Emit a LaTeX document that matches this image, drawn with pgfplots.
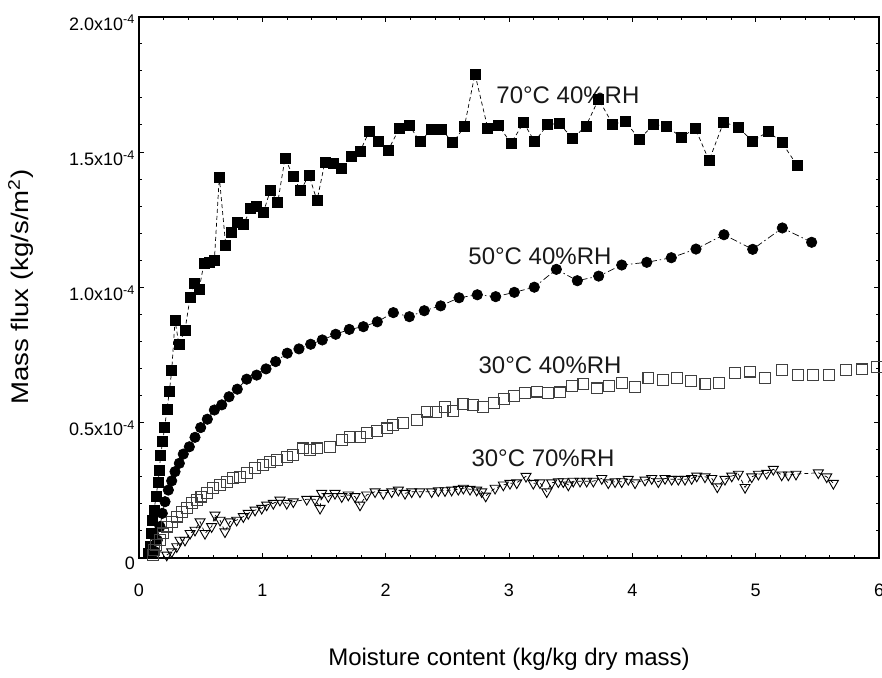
\documentclass[border=0pt]{standalone}
\usepackage{pgfplots}
\pgfplotsset{compat=1.18}
\usepackage{fontspec}
\setmainfont{Liberation Sans}

\pgfplotstableread{
x y
0.075 0.017
0.089 0.041
0.100 0.090
0.111 0.139
0.122 0.176
0.138 0.226
0.154 0.277
0.165 0.324
0.176 0.380
0.192 0.429
0.208 0.482
0.227 0.549
0.246 0.614
0.265 0.691
0.292 0.876
0.324 0.789
0.373 0.842
0.414 0.961
0.448 1.014
0.487 0.993
0.527 1.088
0.568 1.091
0.611 1.099
0.651 1.407
0.703 1.156
0.746 1.203
0.797 1.238
0.849 1.233
0.906 1.292
0.954 1.298
1.008 1.275
1.065 1.359
1.125 1.314
1.184 1.477
1.249 1.411
1.311 1.357
1.378 1.415
1.443 1.320
1.508 1.463
1.575 1.458
1.644 1.440
1.725 1.482
1.792 1.501
1.867 1.577
1.944 1.538
2.021 1.507
2.111 1.587
2.189 1.600
2.278 1.538
2.373 1.584
2.454 1.584
2.544 1.534
2.638 1.593
2.724 1.788
2.827 1.589
2.913 1.600
3.016 1.532
3.119 1.608
3.208 1.538
3.314 1.602
3.408 1.604
3.517 1.550
3.624 1.596
3.727 1.695
3.841 1.602
3.941 1.614
4.057 1.547
4.173 1.601
4.279 1.596
4.395 1.554
4.511 1.587
4.622 1.468
4.741 1.611
4.857 1.591
4.976 1.540
5.103 1.576
5.214 1.534
5.335 1.451
}\seventy

\pgfplotstableread{
x y
0.130 0.022
0.148 0.065
0.170 0.115
0.189 0.164
0.211 0.207
0.238 0.250
0.265 0.284
0.292 0.318
0.327 0.349
0.359 0.383
0.408 0.410
0.454 0.445
0.500 0.481
0.554 0.512
0.611 0.546
0.671 0.565
0.730 0.595
0.797 0.623
0.873 0.660
0.954 0.675
1.030 0.698
1.108 0.725
1.202 0.756
1.297 0.772
1.392 0.789
1.486 0.805
1.595 0.826
1.705 0.844
1.819 0.854
1.932 0.872
2.062 0.906
2.192 0.891
2.313 0.913
2.446 0.931
2.595 0.961
2.743 0.972
2.892 0.965
3.043 0.981
3.205 1.000
3.384 1.066
3.554 1.024
3.727 1.041
3.914 1.082
4.117 1.092
4.316 1.109
4.516 1.141
4.743 1.194
4.976 1.140
5.216 1.219
5.454 1.166
}\fifty

\pgfplotstableread{
x y
0.116 0.010
0.122 0.028
0.138 0.047
0.170 0.065
0.197 0.090
0.225 0.115
0.265 0.133
0.306 0.152
0.346 0.170
0.387 0.183
0.427 0.201
0.468 0.213
0.506 0.226
0.549 0.238
0.602 0.257
0.657 0.269
0.711 0.281
0.765 0.294
0.819 0.299
0.873 0.312
0.941 0.331
1.008 0.343
1.062 0.355
1.117 0.361
1.198 0.373
1.251 0.380
1.332 0.404
1.387 0.398
1.441 0.404
1.549 0.410
1.644 0.435
1.711 0.447
1.792 0.447
1.846 0.462
1.927 0.469
2.008 0.478
2.062 0.491
2.143 0.497
2.252 0.509
2.333 0.540
2.408 0.538
2.481 0.556
2.549 0.542
2.630 0.568
2.711 0.565
2.792 0.558
2.878 0.571
2.960 0.586
3.043 0.598
3.132 0.610
3.225 0.614
3.316 0.608
3.414 0.611
3.508 0.635
3.603 0.642
3.716 0.626
3.809 0.635
3.914 0.647
4.022 0.632
4.130 0.665
4.246 0.657
4.360 0.665
4.476 0.654
4.592 0.641
4.705 0.647
4.833 0.682
4.955 0.688
5.078 0.665
5.211 0.694
5.341 0.675
5.467 0.675
5.597 0.675
5.730 0.694
5.860 0.696
5.982 0.706
}\thirtyforty

\pgfplotstableread{
x y
0.225 0.010
0.265 0.022
0.306 0.041
0.332 0.065
0.373 0.065
0.414 0.090
0.454 0.102
0.495 0.133
0.535 0.090
0.589 0.115
0.616 0.158
0.657 0.139
0.697 0.096
0.738 0.133
0.792 0.139
0.846 0.152
0.886 0.164
0.941 0.176
0.995 0.183
1.035 0.195
1.089 0.201
1.143 0.213
1.198 0.201
1.251 0.207
1.360 0.216
1.427 0.216
1.468 0.183
1.481 0.238
1.535 0.226
1.589 0.238
1.644 0.226
1.697 0.232
1.751 0.226
1.792 0.195
1.846 0.232
1.914 0.244
1.981 0.238
2.049 0.244
2.103 0.250
2.157 0.238
2.211 0.244
2.278 0.244
2.373 0.244
2.427 0.248
2.481 0.248
2.535 0.250
2.589 0.253
2.630 0.257
2.684 0.253
2.738 0.250
2.779 0.244
2.811 0.228
2.887 0.257
2.954 0.269
3.008 0.275
3.063 0.277
3.138 0.301
3.197 0.275
3.251 0.277
3.306 0.244
3.346 0.277
3.400 0.281
3.440 0.281
3.481 0.269
3.521 0.283
3.576 0.283
3.630 0.283
3.684 0.283
3.752 0.293
3.805 0.277
3.860 0.281
3.914 0.281
3.967 0.290
4.022 0.277
4.103 0.287
4.157 0.293
4.211 0.281
4.265 0.293
4.319 0.290
4.373 0.290
4.427 0.290
4.481 0.293
4.522 0.302
4.589 0.299
4.644 0.293
4.689 0.262
4.751 0.290
4.806 0.302
4.860 0.309
4.914 0.260
4.968 0.299
5.022 0.309
5.090 0.312
5.143 0.327
5.211 0.306
5.265 0.306
5.327 0.309
5.508 0.314
5.576 0.299
5.630 0.275
}\thirtyseventy

\begin{document}
\begin{tikzpicture}
\begin{axis}[
  at={(0pt,0pt)}, anchor=south west,
  width=740pt, height=541pt, scale only axis,
  xmin=0, xmax=6, ymin=0, ymax=2,
  xtick={0,1,2,3,4,5,6},
  xticklabels={0,1,2,3,4,5,6},
  ytick={0,0.5,1,1.5,2},
  yticklabels={0,0.5x10\textsuperscript{-4},1.0x10\textsuperscript{-4},1.5x10\textsuperscript{-4},2.0x10\textsuperscript{-4}},
  minor x tick num=4, minor y tick num=4,
  major tick length=5pt, minor tick length=3pt,
  tick style={black, line width=0.8pt},
  tick align=inside,
  axis line style={line width=2pt},
  tick label style={font=\fontsize{18}{21}\selectfont},
  xticklabel style={anchor=north, inner sep=0pt, yshift=-26pt},
  yticklabel style={anchor=east, inner sep=0pt, xshift=-4pt, yshift=-6pt},
  xlabel={Moisture content (kg/kg dry mass)},
  ylabel={\scalebox{1.15}[1]{Mass flux (kg/s/m\textsuperscript{2})}},
  label style={font=\fontsize{24}{28}\selectfont},
  xlabel style={at={(axis description cs:0.5,0)}, anchor=center, yshift=-102pt},
  ylabel style={at={(axis description cs:0,0.5)}, anchor=center, yshift=118pt},
  clip=true,
]
\addplot[black, line width=0.7pt, dash pattern=on 4pt off 3pt,
  mark=square*, mark size=5pt, mark options={solid, fill=black}] table {\seventy};
\addplot[black, line width=0.7pt, dash pattern=on 7pt off 3pt on 1.5pt off 3pt,
  mark=*, mark size=5.2pt, mark options={solid, fill=black}] table {\fifty};
\addplot[only marks,
  mark=square, mark size=5.4pt, mark options={solid, fill=white, draw=black!75, line width=1.1pt}] table {\thirtyforty};
\addplot[black, line width=0.7pt, dash pattern=on 4pt off 3pt,
  mark=triangle, mark size=5.8pt, mark options={solid, rotate=180, fill=white, draw=black, line width=0.9pt}] table {\thirtyseventy};
\node[font=\fontsize{24}{28}\selectfont, text=black!90] at (axis cs:3.478,1.711) {70°C 40\%RH};
\node[font=\fontsize{24}{28}\selectfont, text=black!90] at (axis cs:3.251,1.115) {50°C 40\%RH};
\node[font=\fontsize{24}{28}\selectfont, text=black!90] at (axis cs:3.333,0.712) {30°C 40\%RH};
\node[font=\fontsize{24}{28}\selectfont, text=black!90] at (axis cs:3.276,0.369) {30°C 70\%RH};
\end{axis}
\pgfresetboundingbox
\useasboundingbox (-139pt,-119.3pt) rectangle (743pt,557.7pt);
\end{tikzpicture}
\end{document}
